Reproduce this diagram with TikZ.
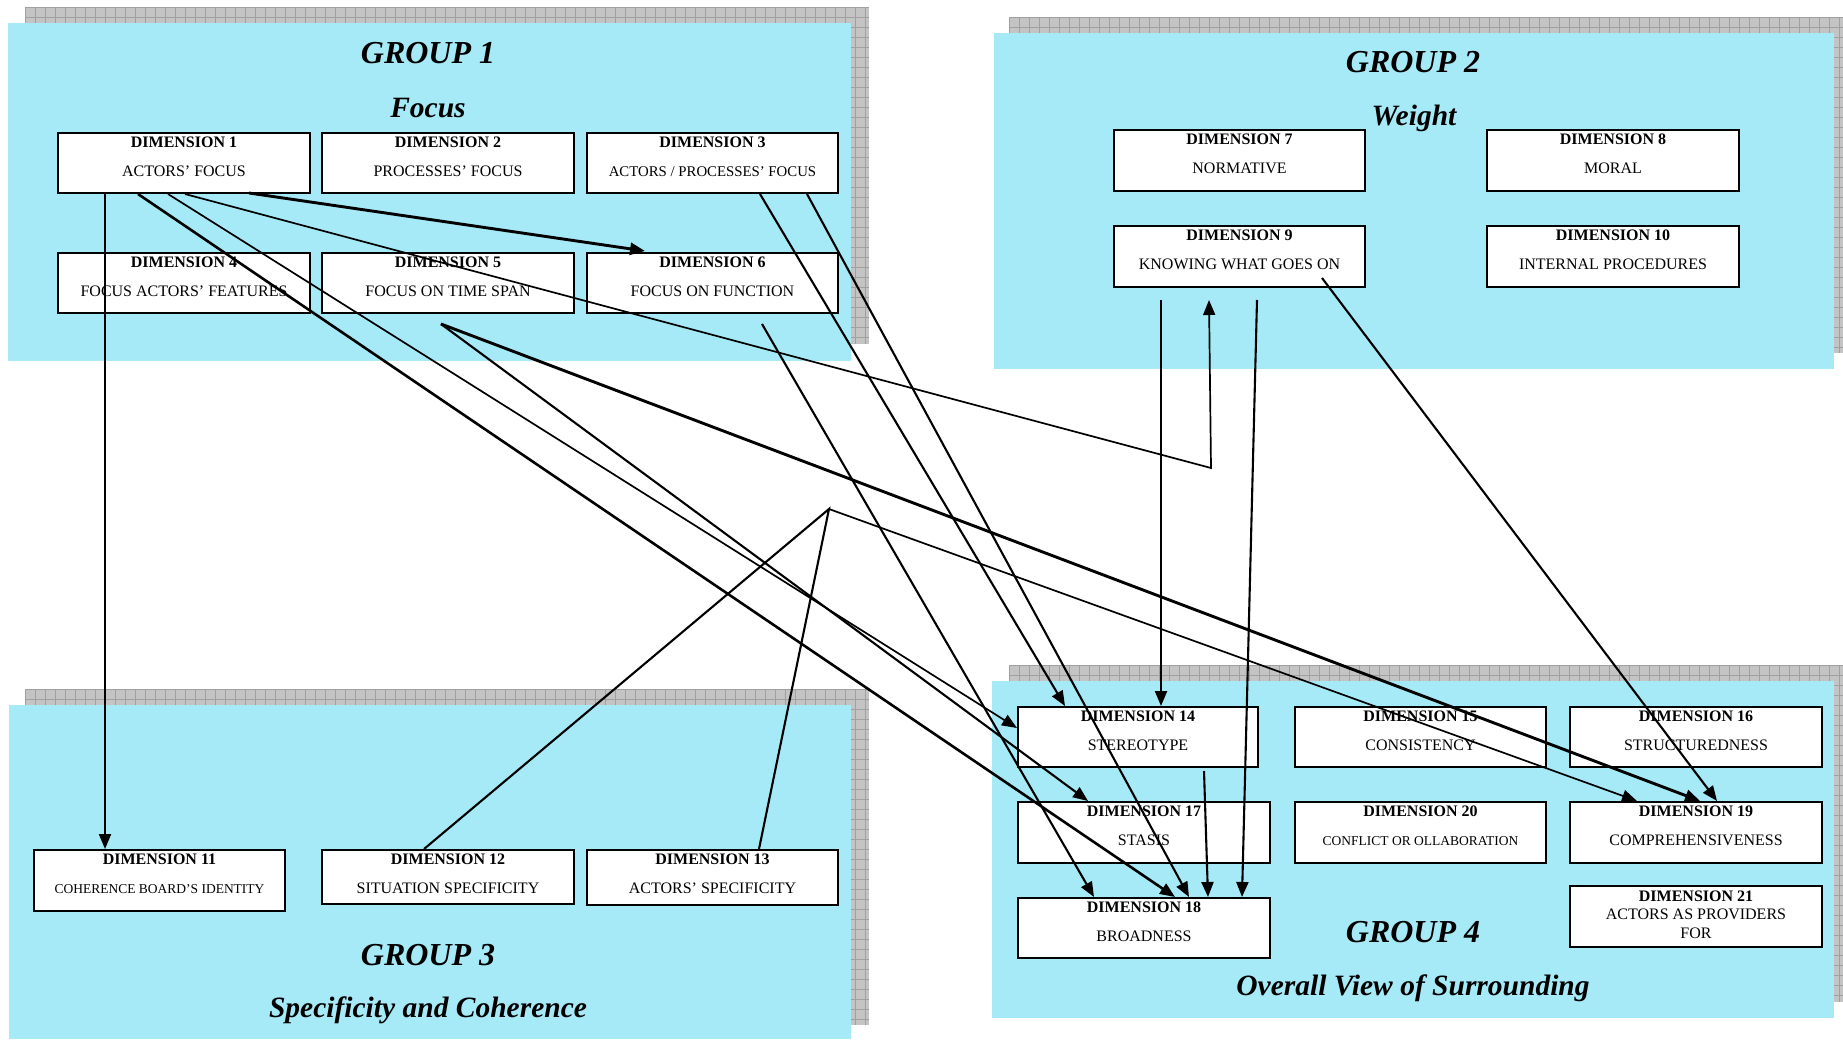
\documentclass[tikz,border=0pt]{standalone}
\usepackage{fontspec}
\setmainfont{Liberation Serif}
\usetikzlibrary{arrows.meta,calc}

\definecolor{panelcyan}{RGB}{166,234,247}
\definecolor{shadowgray}{RGB}{196,196,196}
\definecolor{gridgray}{RGB}{160,160,160}

\tikzset{
  dimframe/.style={draw=black, line width=2pt, fill=white, inner sep=0pt},
  dimtitle/.style={anchor=base, inner sep=0pt, font=\fontsize{16}{19}\selectfont\bfseries},
  dimdesc/.style={anchor=base, inner sep=0pt, font=\fontsize{16}{19}\selectfont},
  grouphead/.style={anchor=base, inner sep=0pt, font=\fontsize{32}{37}\selectfont\bfseries\itshape},
  groupsub/.style={anchor=base, inner sep=0pt, font=\fontsize{29.5}{34}\selectfont\bfseries\itshape},
  panel/.style={fill=panelcyan},
  gridline/.style={draw=gridgray, line width=0.5pt},
  joinline/.style={line width=2.1pt},
  arrowlink/.style={joinline, -{Triangle[length=15pt,width=12pt]}},
  heavy/.style={line width=2.9pt},
  slim/.style={line width=1.7pt},
}

% hatched drop shadow behind a group panel
\newcommand\gridshadow[4]{%
  \fill[shadowgray] (#1,#2) rectangle (#3,#4);
  \begin{scope}
    \clip (#1,#2) rectangle (#3,#4);
    \foreach \k in {0,...,90}{\draw[gridline] ({#1+10*\k},#2) -- ({#1+10*\k},#4);}
    \foreach \k in {0,...,40}{\draw[gridline] (#1,{#2+10*\k}) -- (#3,{#2+10*\k});}
  \end{scope}}

% dimension box: name, x, y, width, height, title, description
\newcommand\dimnode[7]{%
  \node[dimframe, minimum width=#4pt, minimum height=#5pt, anchor=north west] (#1) at (#2,#3) {};
  \node[dimtitle] (#1-t) at ($(#1.north)+(0,15.5)$) {#6};
  \node[dimdesc] (#1-d) at ($(#1.north)+(0,44)$) {#7};}

\begin{document}
\begin{tikzpicture}[x=1pt,y=-1pt]
\useasboundingbox (0,0) rectangle (1843,1039);
\fill[white] (0,0) rectangle (1843,1039);

% group panels with their shadows
\gridshadow{25}{7}{869}{344}
\fill[panel] (8,23) rectangle (851,361);
\gridshadow{1009}{17}{1843}{353}
\fill[panel] (994,33) rectangle (1834,369);
\gridshadow{25}{689}{869}{1025}
\fill[panel] (9,705) rectangle (851,1039);
\gridshadow{1009}{665}{1843}{1002}
\fill[panel] (992,681) rectangle (1834,1018);

% group headings
\node[grouphead] (g1) at (428,63) {GROUP 1};
\node[groupsub] (g1s) at (428,117) {Focus};
\node[grouphead] (g2) at (1413,72) {GROUP 2};
\node[groupsub] (g2s) at (1414,125) {Weight};
\node[grouphead] (g3) at (428,965) {GROUP 3};
\node[groupsub] (g3s) at (428,1017) {Specificity and Coherence};
\node[grouphead] (g4) at (1413,942) {GROUP 4};
\node[groupsub] (g4s) at (1413,995) {Overall View of Surrounding};

% group 1
\dimnode{d1}{57}{132}{252}{60}{DIMENSION 1}{ACTORS’ FOCUS}
\dimnode{d2}{321}{132}{252}{60}{DIMENSION 2}{PROCESSES’ FOCUS}
\dimnode{d3}{586}{132}{251}{60}{DIMENSION 3}{\fontsize{14.8}{17}\selectfont ACTORS / PROCESSES’ FOCUS}
\dimnode{d4}{57}{252}{252}{60}{DIMENSION 4}{FOCUS ACTORS’ FEATURES}
\dimnode{d5}{321}{252}{252}{60}{DIMENSION 5}{FOCUS ON TIME SPAN}
\dimnode{d6}{586}{252}{251}{60}{DIMENSION 6}{FOCUS ON FUNCTION}

% group 2
\dimnode{d7}{1113}{129}{251}{61}{DIMENSION 7}{NORMATIVE}
\dimnode{d8}{1486}{129}{252}{61}{DIMENSION 8}{MORAL}
\dimnode{d9}{1113}{225}{251}{61}{DIMENSION 9}{KNOWING WHAT GOES ON}
\dimnode{d10}{1486}{225}{252}{61}{DIMENSION 10}{INTERNAL PROCEDURES}

% group 3
\dimnode{d11}{33}{849}{251}{61}{DIMENSION 11}{\fontsize{13.5}{16}\selectfont COHERENCE BOARD’S IDENTITY}
\dimnode{d12}{321}{849}{252}{54}{DIMENSION 12}{SITUATION SPECIFICITY}
\dimnode{d13}{586}{849}{251}{55}{DIMENSION 13}{ACTORS’ SPECIFICITY}

% group 4
\dimnode{d14}{1017}{706}{240}{60}{DIMENSION 14}{STEREOTYPE}
\dimnode{d15}{1294}{706}{251}{60}{DIMENSION 15}{CONSISTENCY}
\dimnode{d16}{1569}{706}{252}{60}{DIMENSION 16}{STRUCTUREDNESS}
\dimnode{d17}{1017}{801}{252}{61}{DIMENSION 17}{STASIS}
\dimnode{d20}{1294}{801}{251}{61}{DIMENSION 20}{\fontsize{13.5}{16}\selectfont CONFLICT OR OLLABORATION}
\dimnode{d19}{1569}{801}{252}{61}{DIMENSION 19}{COMPREHENSIVENESS}
\dimnode{d18}{1017}{897}{252}{60}{DIMENSION 18}{BROADNESS}
\node[dimframe, minimum width=252pt, minimum height=61pt, anchor=north west] (d21) at (1569,885) {};
\node[dimtitle] (d21-t) at ($(d21.north)+(0,16)$) {DIMENSION 21};
\node[dimdesc] (d21-d) at ($(d21.north)+(0,34)$) {ACTORS AS PROVIDERS};
\node[dimdesc] (d21-e) at ($(d21.north)+(0,53)$) {FOR};

% junction points of the connectors
\coordinate (d5foot) at ($(d5.south west)+(120,10)$);
\coordinate (hub) at (829,509);
\coordinate (bend) at (1211,468);

% connectors leaving dimension 1
\draw[arrowlink] ($(d1.south west)+(48,0)$) -- ($(d11.north west)+(72,0)$);
\draw[arrowlink, line width=2.6pt] ($(d1.south west)+(81,0)$) -- ($(d18.north west)+(158,0)$);
\draw[arrowlink, slim] ($(d1.south west)+(111,0)$) -- ($(d14.north west)+(0,22)$);
\draw[arrowlink, slim] ($(d1.south west)+(128,0)$) -- (bend) -- ($(d9.south west)+(96,12)$);
\draw[arrowlink, heavy] ($(d1.south west)+(192,-1)$) -- ($(d6.north west)+(59,-1)$);

% connectors leaving dimension 3 and 6
\draw[arrowlink] ($(d3.south west)+(174,0)$) -- ($(d14.north west)+(48,0)$);
\draw[arrowlink] ($(d3.south west)+(221,0)$) -- ($(d18.north west)+(172,0)$);
\draw[arrowlink] ($(d6.south west)+(176,10)$) -- ($(d18.north west)+(77,0)$);

% connectors leaving dimension 5
\draw[arrowlink, heavy] (d5foot) -- ($(d19.north west)+(131,0)$);
\draw[arrowlink] (d5foot) -- ($(d17.north west)+(71,0)$);

% dimensions 12 and 13 joined towards dimension 19
\draw[joinline] ($(d12.north west)+(103,0)$) -- (hub) -- ($(d13.north west)+(173,0)$);
\draw[arrowlink, slim] (hub) -- ($(d19.north west)+(68,0)$);

% connectors leaving dimension 9
\draw[arrowlink] ($(d9.south west)+(48,12)$) -- ($(d14.north west)+(144,0)$);
\draw[arrowlink] ($(d9.south west)+(144,12)$) -- ($(d18.north west)+(225,0)$);
\draw[arrowlink] ($(d9.south west)+(209,-10)$) -- ($(d19.north west)+(148,0)$);

% dimension 14 to dimension 18
\draw[arrowlink] ($(d14.south west)+(187,3)$) -- ($(d18.north west)+(191,0)$);
\end{tikzpicture}
\end{document}
